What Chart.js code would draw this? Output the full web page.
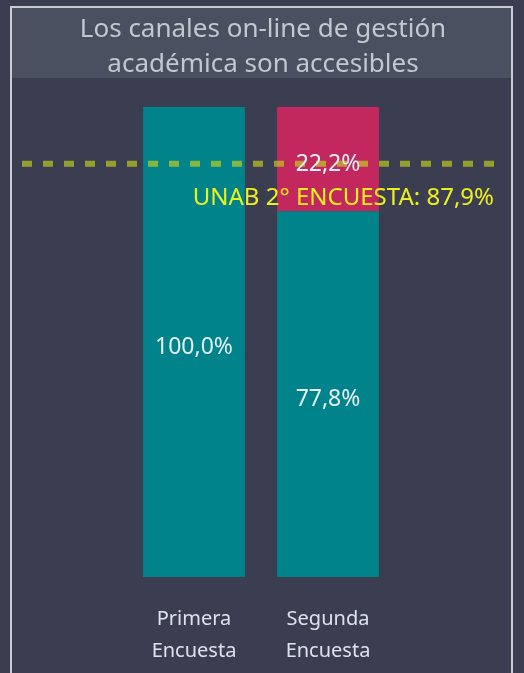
<!DOCTYPE html>
<html>
<head>
<meta charset="utf-8">
<script src="https://cdn.jsdelivr.net/npm/chart.js@4.4.0/dist/chart.umd.min.js"></script>
<style>
  html, body { margin: 0; padding: 0; background: #3a3e50; }
  #wrap { width: 524px; height: 673px; }
</style>
</head>
<body>
<div id="wrap"><canvas id="myChart" width="524" height="673"></canvas></div>
<script>
// datos
var categorias = [['Primera', 'Encuesta'], ['Segunda', 'Encuesta']];
var accesible = [100.0, 77.8];
var noAccesible = [0.0, 22.2];
var referencia = 87.9;
var referenciaTexto = 'UNAB 2° ENCUESTA: 87,9%';
var titulo = ['Los canales on-line de gestión', 'académica son accesibles'];

var fuente = '"Noto Sans", "Open Sans", sans-serif';

function fmt(v){
	return v.toFixed(1).replace('.', ',') + '%';
}

// fondo, recuadro del titulo y borde
var fondo = {
	id: 'fondo',
	beforeDraw: function(chart){
		var c = chart.ctx;
		c.save();
		c.fillStyle = '#3a3e50';
		c.fillRect(0, 0, chart.width, chart.height);
		c.fillStyle = '#4a5060';
		c.fillRect(12, 8, 499, 70);
		c.strokeStyle = '#c9ccd3';
		c.lineWidth = 2;
		c.beginPath();
		c.moveTo(11, chart.height + 2);
		c.lineTo(11, 7);
		c.lineTo(512, 7);
		c.lineTo(512, chart.height + 2);
		c.stroke();

		// titulo (dibujado aqui para que no lo comprima el padding lateral)
		c.font = '26px ' + fuente;
		c.fillStyle = '#c3c7cf';
		c.textAlign = 'center';
		c.textBaseline = 'alphabetic';
		c.fillText(titulo[0], 263, 37);
		c.fillText(titulo[1], 263, 72);
		c.restore();
	}
};

// linea de referencia y etiquetas de valores
var extras = {
	id: 'extras',
	afterDatasetsDraw: function(chart){
		var c = chart.ctx;
		var y = chart.scales.y.getPixelForValue(referencia);
		c.save();
		c.strokeStyle = 'rgba(200,210,30,0.65)';
		c.lineWidth = 6;
		c.setLineDash([10, 11]);
		c.beginPath();
		c.moveTo(22, y);
		c.lineTo(496, y);
		c.stroke();
		c.setLineDash([]);

		c.font = '23px ' + fuente;
		c.textAlign = 'center';
		c.textBaseline = 'alphabetic';
		c.fillStyle = '#e6eef6';
		chart.data.datasets.forEach(function(ds, di){
			var meta = chart.getDatasetMeta(di);
			meta.data.forEach(function(bar, i){
				var v = ds.data[i];
				if (!v) return;
				var p = bar.getProps(['x', 'y', 'base'], true);
				c.fillText(fmt(v), p.x, (p.y + p.base) / 2 + 12);
			});
		});

		c.font = '24px ' + fuente;
		c.textAlign = 'right';
		c.fillStyle = '#eef01e';
		c.fillText(referenciaTexto, 494, y + 41);
		c.restore();
	}
};

var chartdata = {
	labels: categorias,
	datasets: [
		{
			label: 'Accesible',
			backgroundColor: '#00838a',
			data: accesible
		},
		{
			label: 'No accesible',
			backgroundColor: '#c2285e',
			data: noAccesible
		}
	]
};

var ctx = document.getElementById('myChart');

var barGraph = new Chart(ctx, {
	type: 'bar',
	data: chartdata,
	plugins: [fondo, extras],
	options: {
		responsive: false,
		animation: false,
		layout: { padding: { left: 127, right: 129, top: 107, bottom: 0 } },
		categoryPercentage: 1,
		barPercentage: 0.76,
		plugins: {
			legend: { display: false },
			tooltip: { enabled: false },
			title: { display: false }
		},
		scales: {
			x: {
				stacked: true,
				grid: { display: false, drawTicks: false },
				border: { display: false },
				afterFit: function(axis){ axis.height = 96; },
				ticks: {
					color: '#dde3ee',
					padding: 26,
					font: { family: fuente, size: 20, lineHeight: 1.6 }
				}
			},
			y: {
				stacked: true,
				display: false,
				min: 0,
				max: 100
			}
		}
	}
});
</script>
</body>
</html>
